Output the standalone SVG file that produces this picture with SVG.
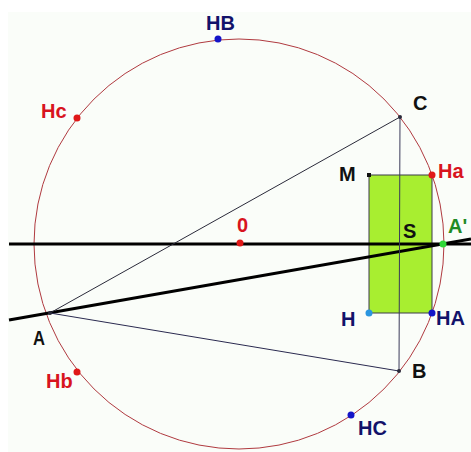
<svg xmlns="http://www.w3.org/2000/svg" width="471" height="452" viewBox="0 0 471 452">
<style>
text{font-family:"Liberation Sans",Arial,sans-serif;font-weight:bold;font-size:20px}
.red{fill:#d8141e}.navy{fill:#12126a}.blk{fill:#111}.grn{fill:#1f8a25}
.thick{stroke:#000;stroke-width:3;fill:none}
.thin{stroke-width:1;fill:none}
</style>
<rect x="0" y="0" width="471" height="452" fill="#fff"/>
<rect x="8" y="12" width="463" height="440" fill="#fafdf9"/>
<g id="circle"><circle cx="239" cy="244" r="205" fill="none" stroke="#b03a40" stroke-width="1"/></g>
<g id="rectangle"><rect x="369" y="175" width="63" height="138" fill="#a8ee30" stroke="#3a3a4a" stroke-width="1"/></g>
<g id="connectors">
<line class="thick" x1="9" y1="244" x2="471" y2="244"/>
<line class="thick" x1="9" y1="320" x2="471" y2="239"/>
<line class="thin" x1="50" y1="313" x2="400" y2="117" stroke="#2a2a3a"/>
<line class="thin" x1="50" y1="313" x2="399" y2="371" stroke="#2a2a50"/>
<line class="thin" x1="400" y1="117" x2="399" y2="371" stroke="#3a3a5a"/>
</g>
<g id="O"><circle cx="240" cy="243" r="3.5" fill="#e01818"/><text class="red" x="237" y="232">0</text></g>
<g id="HB"><circle cx="218" cy="39" r="3.5" fill="#1414c8"/><text class="navy" x="206" y="30">HB</text></g>
<g id="Hc"><circle cx="77" cy="118" r="3.5" fill="#e01818"/><text class="red" x="41" y="118">Hc</text></g>
<g id="C"><circle cx="400" cy="117" r="2" fill="#2a2a3a"/><text class="blk" x="413" y="110">C</text></g>
<g id="M"><rect x="367" y="173" width="4" height="4" fill="#111"/><text class="blk" x="339" y="181">M</text></g>
<g id="Ha"><circle cx="432" cy="175" r="3.5" fill="#e01818"/><text class="red" x="438" y="178">Ha</text></g>
<g id="S"><text class="blk" x="403" y="238">S</text></g>
<g id="A'"><circle cx="443" cy="244" r="3.5" fill="#30d838"/><text class="grn" x="448" y="233">A'</text></g>
<g id="H"><circle cx="369" cy="313" r="3.5" fill="#2a96e0"/><text class="navy" x="341" y="326">H</text></g>
<g id="HA"><circle cx="432" cy="313" r="3.5" fill="#1414c8"/><text class="navy" x="436" y="325">HA</text></g>
<g id="A"><circle cx="50" cy="313" r="2" fill="#2a2a3a"/><text class="blk" x="33" y="345" textLength="12" lengthAdjust="spacingAndGlyphs">A</text></g>
<g id="Hb"><circle cx="77" cy="372" r="3.5" fill="#e01818"/><text class="red" x="46" y="388">Hb</text></g>
<g id="B"><circle cx="399" cy="371" r="2" fill="#2a2a3a"/><text class="blk" x="412" y="378">B</text></g>
<g id="HC"><circle cx="351" cy="415" r="3.5" fill="#1414c8"/><text class="navy" x="358" y="435">HC</text></g>
</svg>
